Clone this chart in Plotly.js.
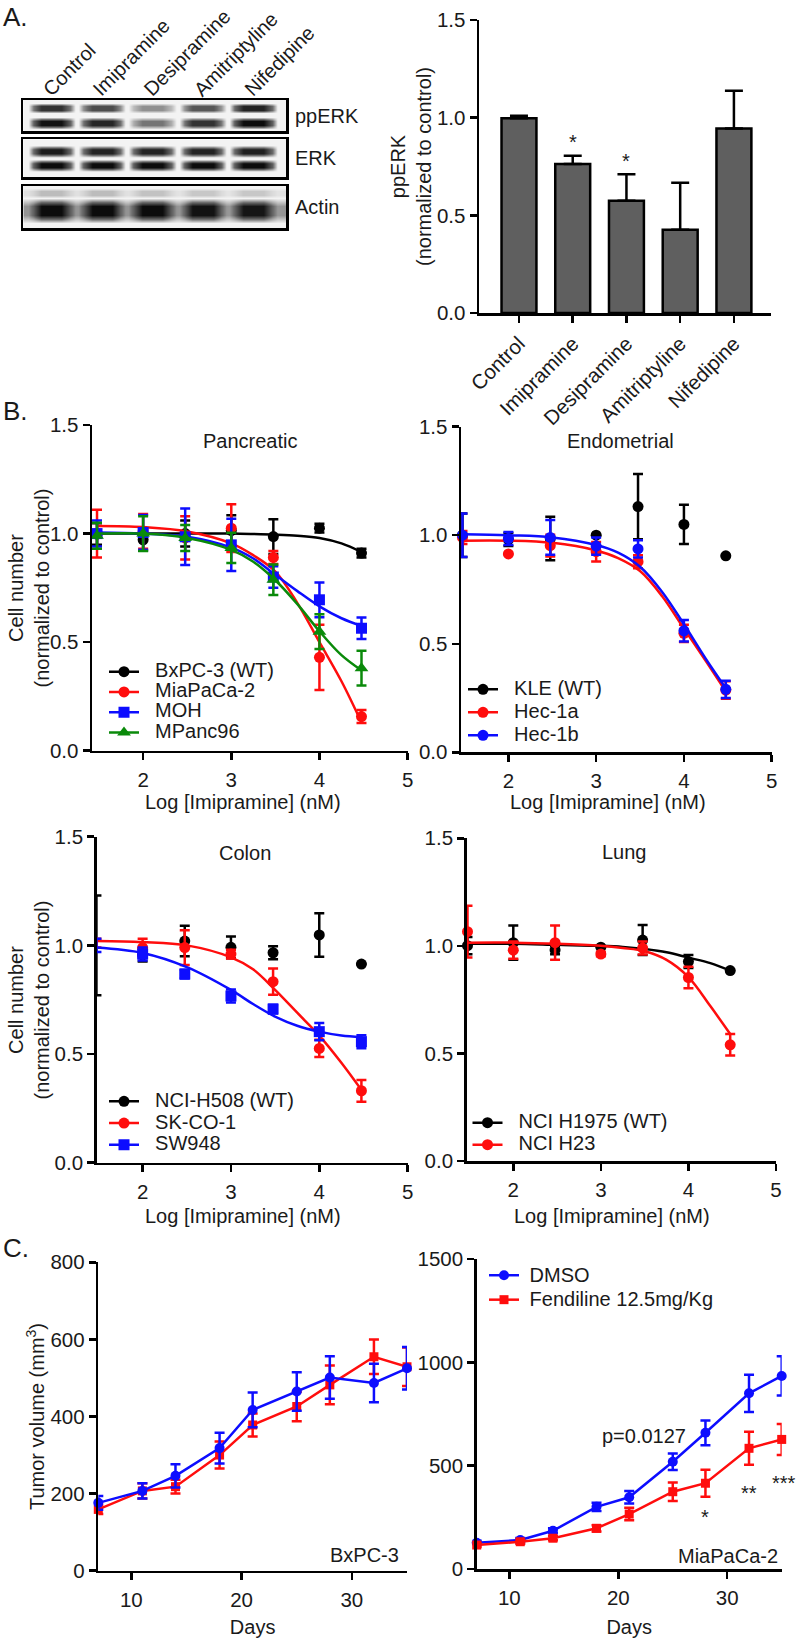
<!DOCTYPE html>
<html><head><meta charset="utf-8">
<script src="https://cdn.plot.ly/plotly-3.0.1.min.js"></script>
<style>html,body{margin:0;padding:0;background:#fff}#chart{width:800px;height:1638px}</style>
</head><body><div id="chart"></div>
<script>
// ================= DATA =================
// A. Western blot lanes and relative band intensities (0..1)
const lanes = ['Control', 'Imipramine', 'Desipramine', 'Amitriptyline', 'Nifedipine'];
const ppERKUpper = [0.80, 0.66, 0.36, 0.60, 0.88];
const ppERKLower = [0.97, 0.86, 0.46, 0.80, 1.00];
const erkUpper = [0.92, 0.88, 0.88, 0.88, 0.90];
const erkLower = [1.00, 1.00, 1.00, 1.00, 1.00];
const actinBand = [1.00, 1.00, 1.00, 0.97, 0.95];
const actinHaze = [0.20, 0.20, 0.18, 0.16, 0.16];

// A. ppERK quantification
const drugs = ['Control', 'Imipramine', 'Desipramine', 'Amitriptyline', 'Nifedipine'];
const ppERKMean = [0.997, 0.763, 0.575, 0.426, 0.945];
const ppERKErr = [0.013, 0.042, 0.135, 0.241, 0.193];
const ppERKSig = ['', '*', '*', '', ''];

// B. dose response (log nM)
const logDose = [1.477, 2, 2.477, 3, 3.477, 4, 4.477];
const fitX = [1.477, 2, 2.5, 3, 3.25, 3.5, 3.75, 4, 4.25, 4.477];

// Pancreatic
const bxpcMean = [0.998, 0.971, 1.000, 1.014, 0.986, 1.025, 0.910];
const bxpcErr  = [0.05, 0.05, 0.06, 0.07, 0.08, 0.02, 0.02];
const bxpcFit  = [1.0, 1.0, 1.0, 1.0, 0.998, 0.995, 0.99, 0.98, 0.955, 0.915];
const miaMean  = [1.000, 1.010, 0.980, 1.025, 0.890, 0.430, 0.157];
const miaErr   = [0.11, 0.08, 0.10, 0.11, 0.03, 0.15, 0.03];
const miaFit   = [1.035, 1.03, 1.01, 0.955, 0.90, 0.825, 0.68, 0.50, 0.32, 0.13];
const mohMean  = [1.000, 1.005, 0.985, 0.948, 0.800, 0.695, 0.564];
const mohErr   = [0.06, 0.08, 0.13, 0.12, 0.05, 0.08, 0.05];
const mohFit   = [1.005, 1.0, 0.985, 0.935, 0.885, 0.81, 0.735, 0.665, 0.61, 0.575];
const mpMean   = [0.990, 1.000, 0.980, 0.934, 0.787, 0.548, 0.380];
const mpErr    = [0.06, 0.08, 0.06, 0.07, 0.07, 0.08, 0.08];
const mpFit    = [1.0, 1.0, 0.98, 0.925, 0.87, 0.785, 0.675, 0.55, 0.44, 0.37];

// Endometrial
const kleMean  = [1.000, 0.980, 0.985, 1.000, 1.132, 1.050, 0.905];
const kleErr   = [0.10, 0.03, 0.10, 0.00, 0.15, 0.09, 0.00];
const hecaMean = [0.990, 0.914, 0.952, 0.924, 0.878, 0.548, 0.287];
const hecaErr  = [0.03, 0.00, 0.05, 0.045, 0.03, 0.04, 0.04];
const hecaFit  = [0.975, 0.975, 0.965, 0.93, 0.895, 0.835, 0.72, 0.57, 0.42, 0.28];
const hecbMean = [1.000, 0.985, 0.990, 0.950, 0.937, 0.560, 0.290];
const hecbErr  = [0.10, 0.03, 0.08, 0.04, 0.04, 0.05, 0.04];
const hecbFit  = [1.005, 1.0, 0.99, 0.955, 0.92, 0.855, 0.74, 0.59, 0.43, 0.295];

// Colon
const h508Mean = [1.000, 0.956, 1.020, 0.991, 0.966, 1.048, 0.914];
const h508Err  = [0.23, 0.03, 0.07, 0.05, 0.03, 0.10, 0.00];
const skcoMean = [1.010, 0.990, 0.990, 0.960, 0.833, 0.526, 0.331];
const skcoErr  = [0.02, 0.04, 0.08, 0.02, 0.06, 0.04, 0.05];
const skcoFit  = [1.02, 1.015, 1.0, 0.945, 0.89, 0.795, 0.69, 0.585, 0.46, 0.335];
const swMean   = [1.000, 0.960, 0.868, 0.767, 0.707, 0.603, 0.557];
const swErr    = [0.03, 0.03, 0.02, 0.03, 0.02, 0.04, 0.03];
const swFit    = [0.99, 0.965, 0.90, 0.795, 0.73, 0.672, 0.63, 0.603, 0.585, 0.578];

// Lung
const h1975Mean = [1.001, 1.015, 0.981, 0.994, 1.027, 0.927, 0.885];
const h1975Err  = [0.04, 0.08, 0.02, 0.00, 0.07, 0.03, 0.00];
const h1975Fit  = [1.01, 1.01, 1.005, 1.0, 0.995, 0.985, 0.97, 0.945, 0.92, 0.885];
const h23Mean   = [1.066, 0.980, 1.015, 0.962, 0.990, 0.853, 0.540];
const h23Err    = [0.12, 0.04, 0.08, 0.01, 0.03, 0.05, 0.05];
const h23Fit    = [1.015, 1.015, 1.01, 1.0, 0.99, 0.975, 0.935, 0.855, 0.72, 0.59];

// C. Xenograft tumor volume (mm3)
const days = [7, 11, 14, 18, 21, 25, 28, 32, 35];
const bxDmso    = [176, 207, 246, 318, 417, 465, 501, 487, 525];
const bxDmsoErr = [18, 20, 30, 40, 45, 50, 55, 50, 55];
const bxFend    = [159, 207, 218, 300, 378, 426, 482, 555, 529];
const bxFendErr = [12, 20, 18, 35, 30, 38, 50, 45, 50];
const miaDmso    = [127, 140, 185, 301, 347, 519, 659, 850, 934];
const miaDmsoErr = [10, 10, 12, 20, 30, 40, 60, 90, 95];
const miaFend    = [116, 132, 149, 197, 266, 374, 415, 584, 627];
const miaFendErr = [10, 10, 10, 15, 30, 45, 65, 80, 75];
const miaSigDays = [28, 32, 35];
const miaSigY    = [251, 370, 418];
const miaSigText = ['*', '**', '***'];

// ================= HELPERS =================
const W = 800, H = 1638;
const L = x => x / W;
const T = y => 1 - y / H;
const FONT = 'Liberation Sans, Arial, Helvetica, sans-serif';
const TXT = '#1a1a1a';
const RED = '#ff0d0d', BLUE = '#0d0dff', GREEN = '#0a8a0a', BLK = '#000000';
const traces = [];

// ---- Western blot: each panel is a smoothed heatmap built from the band intensities ----
const blotPanels = [
  {n: '',  gapLevel: 0, bands: [{row: 0.26, half: 0.18, vals: ppERKLower}, {row: 0.74, half: 0.17, vals: ppERKUpper}]},
  {n: '2', gapLevel: 0, bands: [{row: 0.31, half: 0.17, vals: erkLower}, {row: 0.69, half: 0.16, vals: erkUpper}]},
  {n: '3', gapLevel: 0.35, bands: [{row: 0.42, half: 0.30, vals: actinBand}, {row: 0.83, half: 0.12, vals: actinHaze}]}
];
blotPanels.forEach(p => {
  // horizontal profile (lane centre offsets and relative weights)
  const colOff = [-0.47, -0.37, -0.2, 0.2, 0.37, 0.47];
  const colW = [p.gapLevel, 0.55, 1, 1, 0.55, p.gapLevel];
  const xs = [-0.56], laneOf = [-1], cw = [p.gapLevel];
  lanes.forEach((_, i) => colOff.forEach((o, k) => { xs.push(i + o); laneOf.push(i); cw.push(colW[k]); }));
  xs.push(4.65); laneOf.push(-1); cw.push(p.gapLevel);
  const ys = [0], zs = [xs.map(() => 0)];
  p.bands.forEach(b => {
    [[-1, 0], [-0.35, 1], [0.35, 1], [1, 0]].forEach(([f, w]) => {
      ys.push(b.row + f * b.half);
      zs.push(xs.map((_, k) => laneOf[k] < 0 ? w * b.vals[0] * cw[k] : w * b.vals[laneOf[k]] * cw[k]));
    });
  });
  ys.push(1); zs.push(xs.map(() => 0));
  traces.push({type: 'heatmap', x: xs, y: ys, z: zs, zmin: 0, zmax: 1, zsmooth: 'best', showscale: false,
    colorscale: [[0, '#f3f3f3'], [0.5, '#6a6a6a'], [1, '#0c0c0c']],
    xaxis: 'x' + p.n, yaxis: 'y' + p.n, hoverinfo: 'skip'});
});

// ppERK bar chart
traces.push({type: 'bar', x: drugs, y: ppERKMean, xaxis: 'x4', yaxis: 'y4', width: 0.65,
  marker: {color: '#5f5f5f', line: {color: '#000', width: 2.5}},
  error_y: {type: 'data', symmetric: false, array: ppERKErr, arrayminus: ppERKErr.map(() => 0),
    color: '#000', thickness: 2.5, width: 9},
  showlegend: false, hoverinfo: 'skip'});

function legendName(s, gap) { return '<span style="font-size:20px">' + gap + s + '</span>'; }
const GAP2 = '\u00a0\u00a0', GAP1 = '\u00a0';

function doseSeries(ax, legendId, name, color, symbol, size, mean, err, fit) {
  if (fit) {
    traces.push({x: fitX, y: fit, mode: 'lines', line: {color: color, width: 2.5, shape: 'spline', smoothing: 1},
      xaxis: 'x' + ax, yaxis: 'y' + ax, showlegend: false, hoverinfo: 'skip'});
  }
  traces.push({x: logDose, y: mean, mode: 'markers', cliponaxis: false,
    marker: {color: color, symbol: symbol, size: size},
    error_y: {type: 'data', array: err, color: color, thickness: 2.5, width: 5},
    xaxis: 'x' + ax, yaxis: 'y' + ax, showlegend: false, hoverinfo: 'skip'});
  // legend entry (no data of its own)
  traces.push({x: [null], y: [null], mode: 'lines+markers', name: legendName(name, GAP2),
    line: {color: color, width: 2.5}, marker: {color: color, symbol: symbol, size: size},
    xaxis: 'x' + ax, yaxis: 'y' + ax, legend: legendId, showlegend: true, hoverinfo: 'skip'});
}

doseSeries('5', 'legend', 'BxPC-3 (WT)', BLK, 'circle', 11, bxpcMean, bxpcErr, bxpcFit);
doseSeries('5', 'legend', 'MiaPaCa-2', RED, 'circle', 11, miaMean, miaErr, miaFit);
doseSeries('5', 'legend', 'MOH', BLUE, 'square', 11, mohMean, mohErr, mohFit);
doseSeries('5', 'legend', 'MPanc96', GREEN, 'triangle-up', 12, mpMean, mpErr, mpFit);

doseSeries('6', 'legend2', 'KLE (WT)', BLK, 'circle', 11, kleMean, kleErr, null);
doseSeries('6', 'legend2', 'Hec-1a', RED, 'circle', 11, hecaMean, hecaErr, hecaFit);
doseSeries('6', 'legend2', 'Hec-1b', BLUE, 'circle', 11, hecbMean, hecbErr, hecbFit);

doseSeries('7', 'legend3', 'NCI-H508 (WT)', BLK, 'circle', 11, h508Mean, h508Err, null);
doseSeries('7', 'legend3', 'SK-CO-1', RED, 'circle', 11, skcoMean, skcoErr, skcoFit);
doseSeries('7', 'legend3', 'SW948', BLUE, 'square', 11, swMean, swErr, swFit);

doseSeries('8', 'legend4', 'NCI H1975 (WT)', BLK, 'circle', 11, h1975Mean, h1975Err, h1975Fit);
doseSeries('8', 'legend4', 'NCI H23', RED, 'circle', 11, h23Mean, h23Err, h23Fit);

function growth(ax, name, color, symbol, size, y, err, legendId) {
  const t = {x: days, y: y, mode: 'lines+markers', cliponaxis: false,
    line: {color: color, width: 2.5}, marker: {color: color, symbol: symbol, size: size},
    error_y: {type: 'data', array: err, color: color, thickness: 2.5, width: 5},
    xaxis: 'x' + ax, yaxis: 'y' + ax, hoverinfo: 'skip'};
  if (legendId) { t.name = legendName(name, GAP1); t.legend = legendId; t.showlegend = true; }
  else { t.name = name; t.showlegend = false; }
  traces.push(t);
}
growth('9', 'Fendiline 12.5mg/Kg', RED, 'square', 9, bxFend, bxFendErr, null);
growth('9', 'DMSO', BLUE, 'circle', 10, bxDmso, bxDmsoErr, null);
growth('10', 'DMSO', BLUE, 'circle', 10, miaDmso, miaDmsoErr, 'legend5');
growth('10', 'Fendiline 12.5mg/Kg', RED, 'square', 9, miaFend, miaFendErr, 'legend5');

// ================= LAYOUT =================
const axBase = {showline: true, linewidth: 2.5, linecolor: '#000', ticks: 'outside', ticklen: 7,
  tickwidth: 2.5, tickcolor: '#000', showgrid: false, zeroline: false,
  tickfont: {size: 20.5, color: TXT}, fixedrange: true};
const blotX = {showline: true, mirror: true, linewidth: 2.5, linecolor: '#000', ticks: '',
  showticklabels: false, showgrid: false, zeroline: false, range: [-0.56, 4.65], fixedrange: true,
  domain: [L(23.3), L(286)]};
const blotY = {showline: true, mirror: true, linewidth: 2.5, linecolor: '#000', ticks: '',
  showticklabels: false, showgrid: false, zeroline: false, range: [0, 1], fixedrange: true};

function doseX(dom, rng) {
  return Object.assign({}, axBase, {domain: dom, range: rng, tickvals: [2, 3, 4, 5], ticklabelstandoff: 2});
}
function doseY(dom) {
  return Object.assign({}, axBase, {domain: dom, range: [0, 1.5], tickvals: [0, 0.5, 1, 1.5], tickformat: '.1f'});
}

const legBase = {bgcolor: 'rgba(0,0,0,0)', borderwidth: 0, xanchor: 'left', yanchor: 'top', itemclick: false};

const layout = {
  width: W, height: H, margin: {l: 0, r: 0, t: 0, b: 0},
  paper_bgcolor: '#ffffff', plot_bgcolor: 'rgba(0,0,0,0)',
  font: {family: FONT, size: 20, color: TXT}, showlegend: true, hovermode: false,

  xaxis: Object.assign({}, blotX, {anchor: 'y'}),
  yaxis: Object.assign({}, blotY, {anchor: 'x', domain: [T(131), T(100)]}),
  xaxis2: Object.assign({}, blotX, {anchor: 'y2'}),
  yaxis2: Object.assign({}, blotY, {anchor: 'x2', domain: [T(177), T(139.3)]}),
  xaxis3: Object.assign({}, blotX, {anchor: 'y3'}),
  yaxis3: Object.assign({}, blotY, {anchor: 'x3', domain: [T(228.3), T(186)]}),

  xaxis4: Object.assign({}, axBase, {anchor: 'y4', domain: [L(479), L(771)], type: 'category',
    range: [-0.744, 4.69], tickangle: -45, ticklabelstandoff: 1}),
  yaxis4: Object.assign({}, axBase, {anchor: 'x4', domain: [T(313), T(20)], range: [0, 1.5],
    tickvals: [0, 0.5, 1, 1.5], tickformat: '.1f',
    title: {text: 'ppERK<br>(normalized to control)', font: {size: 20, color: TXT}}}),

  xaxis5: Object.assign(doseX([L(92), L(407.6)], [1.42, 5]), {anchor: 'y5'}),
  yaxis5: Object.assign(doseY([T(750.7), T(425)]), {anchor: 'x5'}),
  xaxis6: Object.assign(doseX([L(461), L(771.7)], [1.46, 5]), {anchor: 'y6'}),
  yaxis6: Object.assign(doseY([T(752.3), T(426.7)]), {anchor: 'x6'}),
  xaxis7: Object.assign(doseX([L(96.7), L(407.6)], [1.48, 5]), {anchor: 'y7'}),
  yaxis7: Object.assign(doseY([T(1162.7), T(836.7)]), {anchor: 'x7'}),
  xaxis8: Object.assign(doseX([L(466.7), L(776)], [1.468, 5]), {anchor: 'y8'}),
  yaxis8: Object.assign(doseY([T(1161), T(838.3)]), {anchor: 'x8'}),

  xaxis9: Object.assign({}, axBase, {anchor: 'y9', domain: [L(98.3), L(407)], range: [7, 35],
    tickvals: [10, 20, 30], ticklabelstandoff: 2, title: {text: 'Days', font: {size: 20, color: TXT}}}),
  yaxis9: Object.assign({}, axBase, {anchor: 'x9', domain: [T(1570.7), T(1262.3)], range: [0, 800],
    tickvals: [0, 200, 400, 600, 800], title: {text: 'Tumor volume (mm<sup>3</sup>)', font: {size: 20, color: TXT}}}),
  xaxis10: Object.assign({}, axBase, {anchor: 'y10', domain: [L(476.7), L(781.7)], range: [7, 35],
    tickvals: [10, 20, 30], ticklabelstandoff: 2, title: {text: 'Days', font: {size: 20, color: TXT}}}),
  yaxis10: Object.assign({}, axBase, {anchor: 'x10', domain: [T(1569), T(1259)], range: [0, 1500],
    tickvals: [0, 500, 1000, 1500]}),

  legend:  Object.assign({}, legBase, {x: L(104), y: T(656.5), font: {size: 13.3, color: TXT}}),
  legend2: Object.assign({}, legBase, {x: L(463), y: T(672.8), font: {size: 15.4, color: TXT}}),
  legend3: Object.assign({}, legBase, {x: L(104), y: T(1085.5), font: {size: 14.4, color: TXT}}),
  legend4: Object.assign({}, legBase, {x: L(467.5), y: T(1106.7), font: {size: 14.6, color: TXT}}),
  legend5: Object.assign({}, legBase, {x: L(484), y: T(1258), font: {size: 16.5, color: TXT}}),

  annotations: []
};

function note(text, x, y, opts) {
  layout.annotations.push(Object.assign({text: text, x: L(x), y: T(y), xref: 'paper', yref: 'paper',
    showarrow: false, xanchor: 'center', yanchor: 'middle', font: {size: 20, color: TXT}}, opts || {}));
}
note('A.', 1, 17, {xanchor: 'left', font: {size: 26, color: TXT}});
note('B.', 1, 411, {xanchor: 'left', font: {size: 26, color: TXT}});
note('C.', 1, 1248, {xanchor: 'left', font: {size: 26, color: TXT}});
note('ppERK', 293, 116, {xanchor: 'left'});
note('ERK', 293, 158, {xanchor: 'left'});
note('Actin', 293, 207, {xanchor: 'left'});
note('Pancreatic', 250, 441);
note('Endometrial', 620, 441);
note('Colon', 245, 853);
note('Lung', 624, 852);
note('BxPC-3', 401, 1555, {xanchor: 'right'});
note('MiaPaCa-2', 780, 1556, {xanchor: 'right'});
// axis titles of the dose-response panels
const cellTitle = 'Cell number<br>(normalized to control)';
note(cellTitle, 28.5, 588, {textangle: -90});
note(cellTitle, 28.5, 1000, {textangle: -90});
const doseTitle = 'Log [Imipramine] (nM)';
note(doseTitle, 243, 802);
note(doseTitle, 608, 802);
note(doseTitle, 243, 1216);
note(doseTitle, 612, 1216);

// lane labels of the blot (rotated), anchored on lane positions of the blot axis
lanes.forEach((s, i) => {
  layout.annotations.push({text: s, x: i, xref: 'x', y: T(103), yref: 'paper', textangle: -45,
    xanchor: 'left', yanchor: 'bottom', xshift: -16, showarrow: false, font: {size: 20, color: TXT}});
});

// significance markers on bar chart
ppERKSig.forEach((s, i) => {
  if (s) layout.annotations.push({text: s, x: drugs[i], y: ppERKMean[i] + ppERKErr[i] + 0.07,
    xref: 'x4', yref: 'y4', showarrow: false, font: {size: 20, color: TXT}});
});
// significance markers on xenograft
miaSigText.forEach((s, i) => {
  layout.annotations.push({text: s, x: miaSigDays[i], y: miaSigY[i], xref: 'x10', yref: 'y10',
    xshift: i === 2 ? 2 : 0, showarrow: false, font: {size: 20, color: TXT}});
});
layout.annotations.push({text: 'p=0.0127', x: 22.4, y: 645, xref: 'x10', yref: 'y10',
  showarrow: false, font: {size: 20, color: TXT}});

Plotly.newPlot('chart', traces, layout, {staticPlot: true, displayModeBar: false});
</script>
</body></html>
